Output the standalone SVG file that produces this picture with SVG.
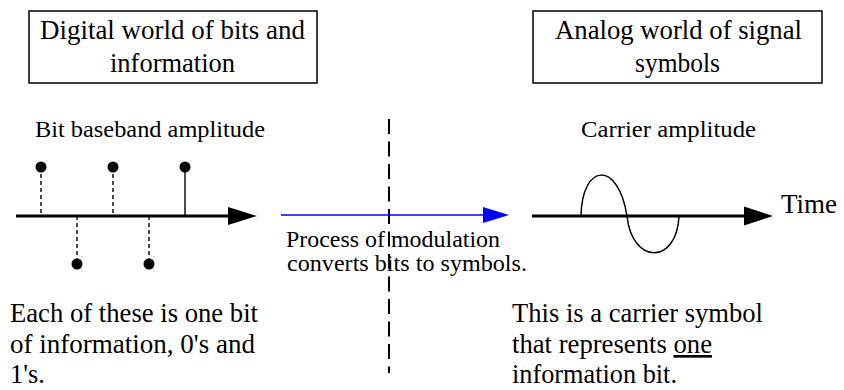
<svg xmlns="http://www.w3.org/2000/svg" width="844" height="390" viewBox="0 0 844 390">
<style>
text{font-family:"Liberation Serif","Times New Roman",serif;fill:#000}
.hd{font-size:27px}
.big{font-size:26.5px}
.mid{font-size:23.5px}
.sm{font-size:23px}
.box{fill:#fff;stroke:#000;stroke-width:1.5}
.axis{stroke:#000;stroke-width:3;fill:none}
.stem{stroke:#000;stroke-width:1.4;stroke-dasharray:4 3}
.solid{stroke:#000;stroke-width:1.4}
</style>
<g id="digital-box">
<rect class="box" x="29" y="11" width="288" height="72"/>
<text class="hd" x="40" y="39" textLength="265" lengthAdjust="spacingAndGlyphs">Digital world of bits and</text>
<text class="hd" x="110" y="72" textLength="125" lengthAdjust="spacingAndGlyphs">information</text>
</g>
<g id="analog-box">
<rect class="box" x="533" y="11" width="289" height="72"/>
<text class="hd" x="555" y="39" textLength="247" lengthAdjust="spacingAndGlyphs">Analog world of signal</text>
<text class="hd" x="635" y="72" textLength="85" lengthAdjust="spacingAndGlyphs">symbols</text>
</g>
<g id="bit-plot">
<text class="mid" x="35" y="137" textLength="230" lengthAdjust="spacingAndGlyphs">Bit baseband amplitude</text>
<line class="axis" x1="16" y1="216" x2="230" y2="216"/>
<polygon points="228,207 257,216 228,225" fill="#000"/>
<line class="stem" x1="41" y1="167" x2="41" y2="216"/>
<line class="stem" x1="113" y1="167" x2="113" y2="216"/>
<line class="solid" x1="185" y1="167" x2="185" y2="216"/>
<line class="stem" x1="77" y1="216" x2="77" y2="264"/>
<line class="stem" x1="149" y1="216" x2="149" y2="264"/>
<circle cx="41" cy="167" r="5.5"/>
<circle cx="113" cy="167" r="5.5"/>
<circle cx="185" cy="167" r="5.5"/>
<circle cx="77" cy="264" r="5.5"/>
<circle cx="149" cy="264" r="5.5"/>
</g>
<g id="carrier-plot">
<text class="mid" x="581" y="137" textLength="175" lengthAdjust="spacingAndGlyphs">Carrier amplitude</text>
<line class="axis" x1="532" y1="216" x2="746" y2="216"/>
<polygon points="744,206.5 773,216 744,225.5" fill="#000"/>
<path d="M581,216 C582,163 618,160 627,216 C632,265 677,265 679,216" fill="none" stroke="#000" stroke-width="1.5"/>
<text class="hd" x="781" y="213">Time</text>
</g>
<g id="divider">
<line x1="389" y1="119" x2="389" y2="373" stroke="#000" stroke-width="2" stroke-dasharray="15 7.5"/>
</g>
<g id="connectors">
<line x1="281" y1="215" x2="485" y2="215" stroke="#0000ff" stroke-width="1.5"/>
<polygon points="483,207 509,215 483,223" fill="#0000ff"/>
</g>
<g id="modulation-label">
<text class="sm" x="286" y="247" textLength="214" lengthAdjust="spacingAndGlyphs">Process of modulation</text>
<text class="sm" x="287" y="271" textLength="240" lengthAdjust="spacingAndGlyphs">converts bits to symbols.</text>
</g>
<g id="bit-note">
<text class="big" x="10" y="322" textLength="248" lengthAdjust="spacingAndGlyphs">Each of these is one bit</text>
<text class="big" x="10" y="353" textLength="245" lengthAdjust="spacingAndGlyphs">of information, 0's and</text>
<text class="big" x="10" y="383">1's.</text>
</g>
<g id="symbol-note">
<text class="big" x="512" y="322" textLength="251" lengthAdjust="spacingAndGlyphs">This is a carrier symbol</text>
<text class="big" x="512" y="353" textLength="200" lengthAdjust="spacingAndGlyphs">that represents <tspan text-decoration="underline">one</tspan></text>
<text class="big" x="512" y="383" textLength="165" lengthAdjust="spacingAndGlyphs">information bit.</text>
</g>
</svg>
